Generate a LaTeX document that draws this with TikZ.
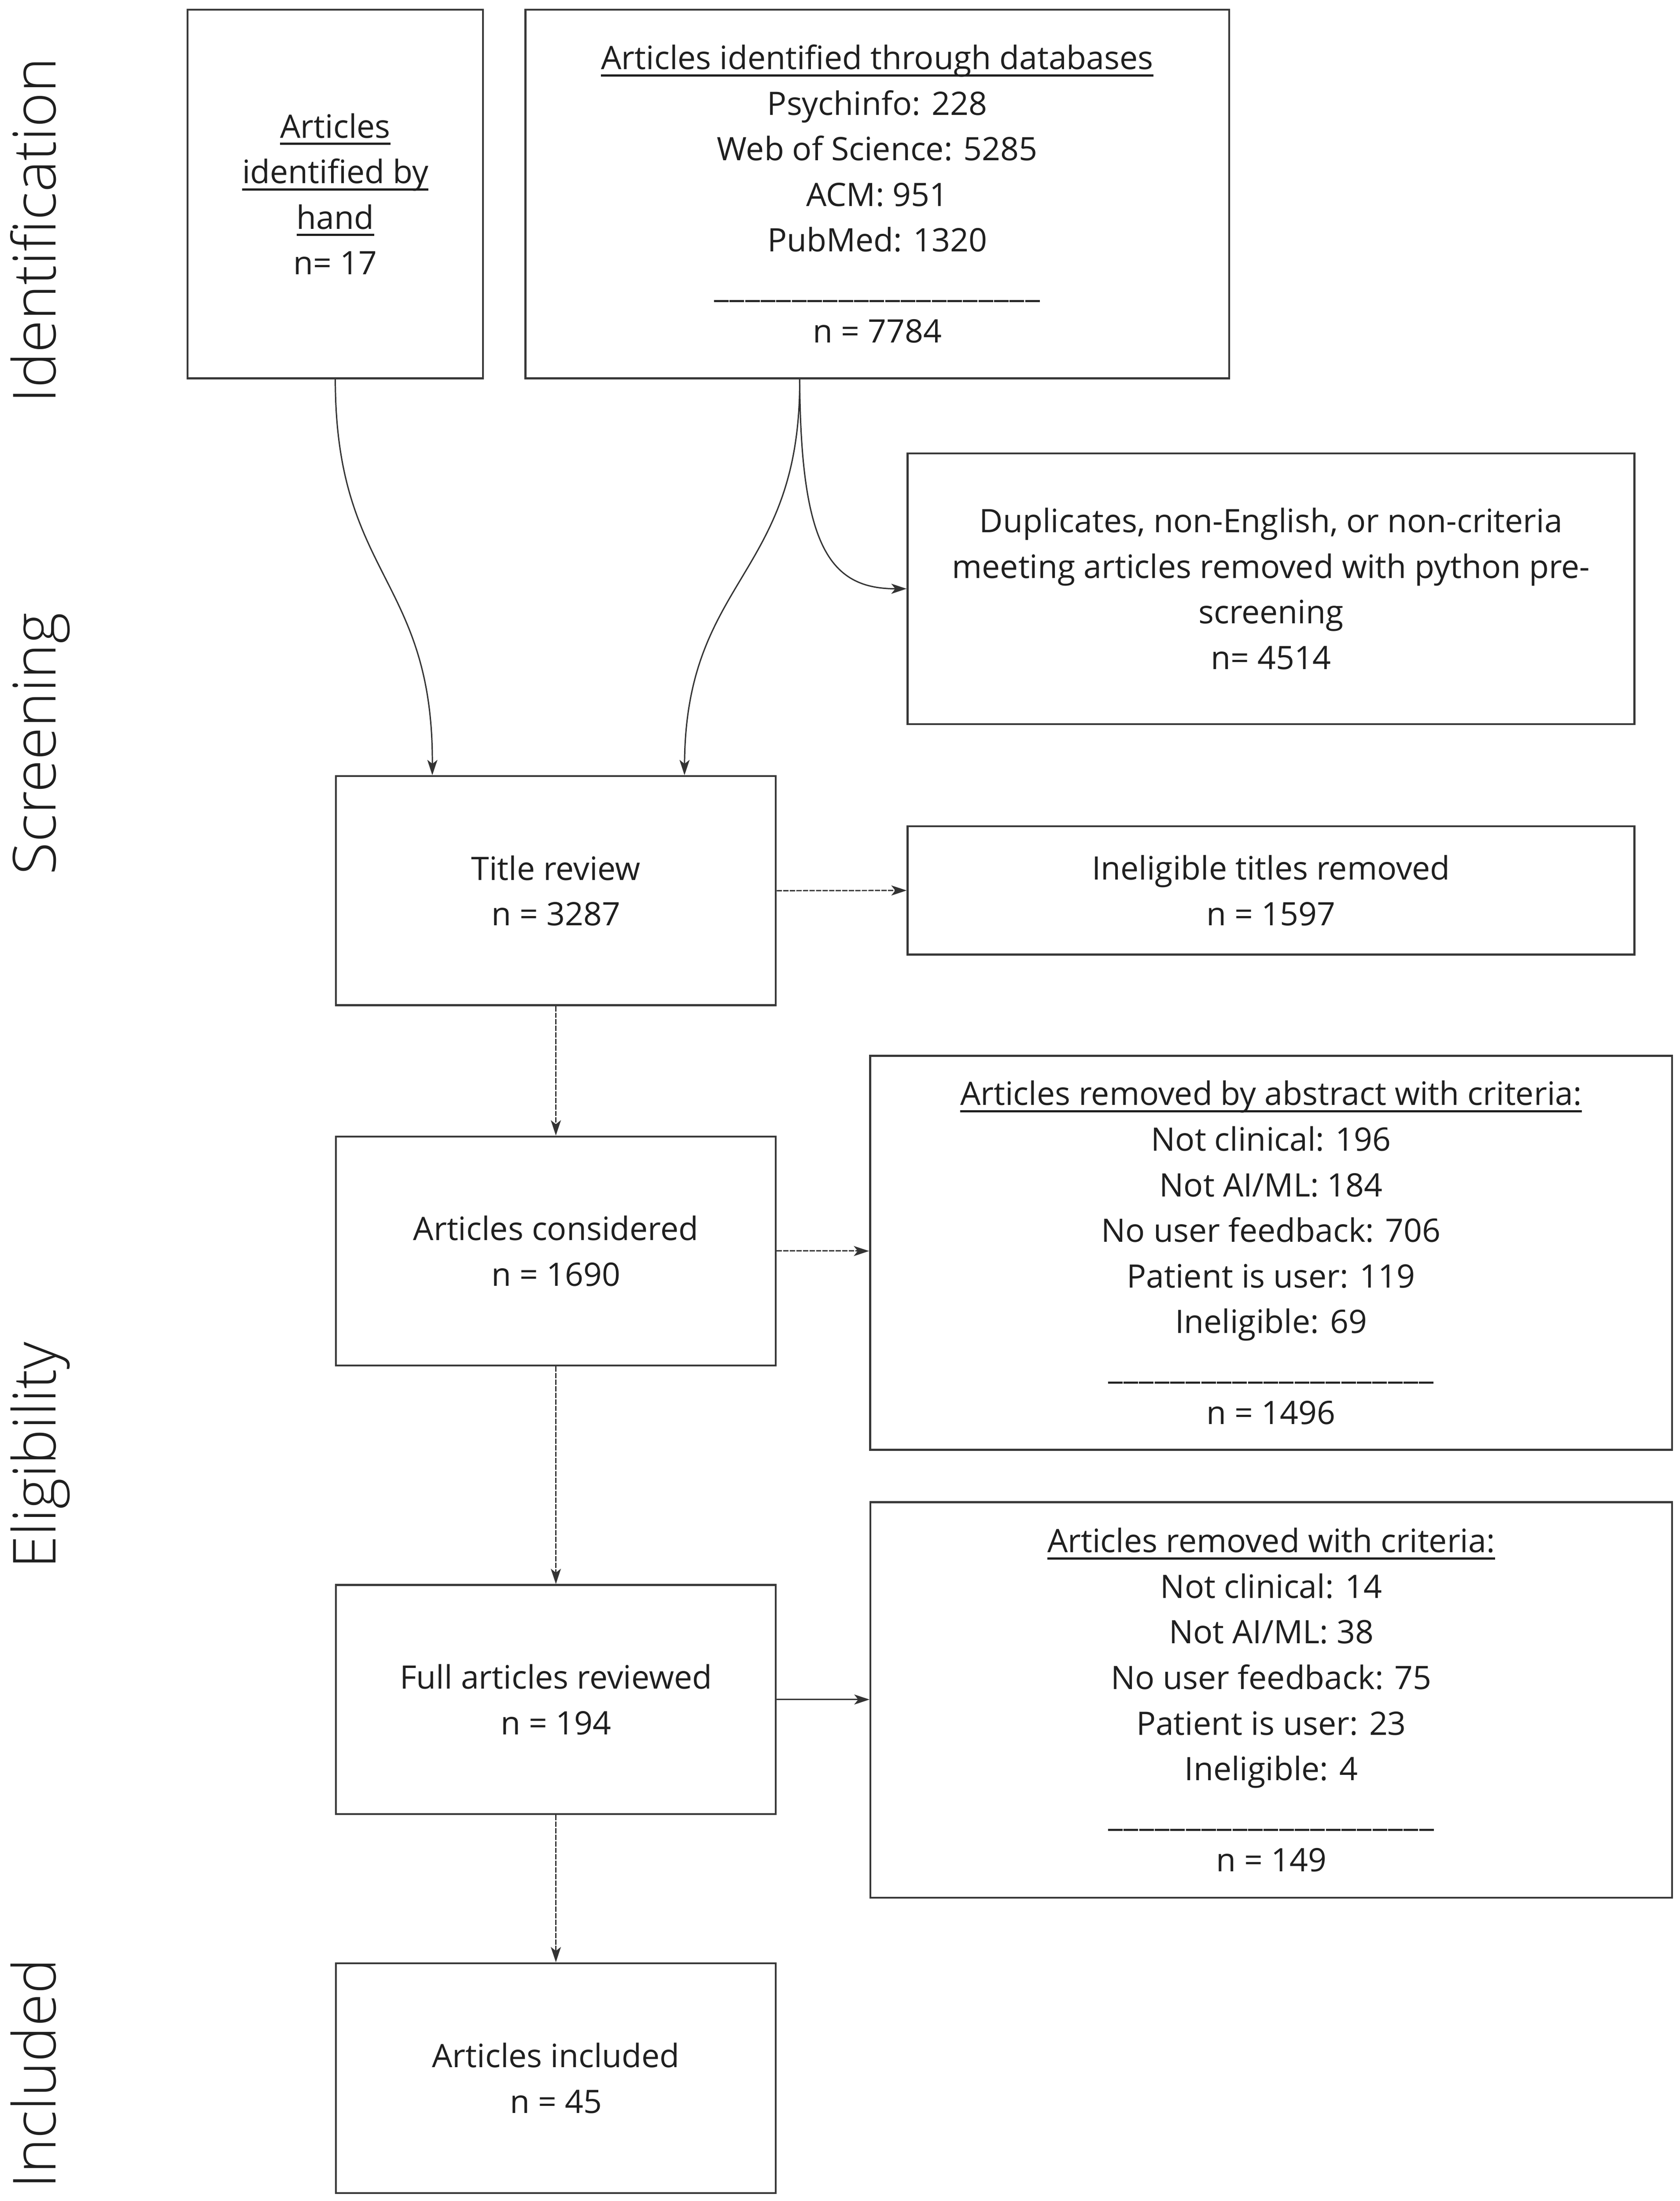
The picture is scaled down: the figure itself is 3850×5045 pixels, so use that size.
\documentclass[tikz,border=0pt]{standalone}
\usepackage{fontspec}
\setmainfont{Open Sans}
\IfFontExistsTF{Open Sans Light}{\newfontfamily\sidefont{Open Sans Light}}{\newfontfamily\sidefont{Open Sans}}
\usetikzlibrary{arrows.meta}
\newsavebox\ulbox
\newcommand\myul[1]{\leavevmode\sbox\ulbox{#1}\rlap{\rule[-0.22em]{\wd\ulbox}{0.07em}}\usebox\ulbox}
\newcommand\usc{\_\kern0.25pt}
\newcommand\uscoreline{\usc\usc\usc\usc\usc\usc\usc\usc\usc\usc\usc\usc\usc\usc\usc\usc\usc\usc\usc\usc\_}
\begin{document}
\begin{tikzpicture}[x=0.1pt,y=-0.1pt,
  box/.style={draw=black!78,line width=0.45pt,inner sep=0pt,align=center,text=black!88,
    font=\fontsize{7.4pt}{10.45pt}\selectfont},
  conn/.style={draw=black!80,line width=0.3pt,-{Stealth[length=3.5pt,width=2.3pt,inset=0.9pt]}},
  dconn/.style={conn,dash pattern=on 1.2pt off 0.3pt},
  side/.style={rotate=90,anchor=base,inner sep=0pt,text=black!88,
    font=\sidefont\fontsize{13.6pt}{16pt}\selectfont}]
\useasboundingbox (0,0) rectangle (3850,5045);
\fill[white] (0,0) rectangle (3850,5045);

% side labels
\node[side] (lid) at (128,528) {Identification};
\node[side] (lsc) at (128,1705) {Screening};
\node[side] (lel) at (128,3336) {Eligibility};
\node[side] (lin) at (128,4753) {Included};

% boxes
\node[box,minimum width=67.7pt,minimum height=84.5pt] (hand) at (768.5,444.5)
  {\myul{Articles}\\\myul{identified by}\\\myul{hand}\\n= 17};
\node[box,minimum width=161.3pt,minimum height=84.5pt] (db) at (2010.5,444.5)
  {\myul{Articles identified through databases}\\Psychinfo: 228\\Web of Science: 5285\\ACM: 951\\PubMed: 1320\\\uscoreline\\n = 7784};
\node[box,minimum width=166.6pt,minimum height=62.1pt] (dup) at (2913,1349.5)
  {Duplicates, non-English, or non-criteria\\meeting articles removed with python pre-\\screening\\n= 4514};
\node[box,minimum width=100.8pt,minimum height=52.5pt] (title) at (1274,2041.5)
  {Title review\\n = 3287};
\node[box,minimum width=166.6pt,minimum height=29.4pt] (inelt) at (2913,2041)
  {Ineligible titles removed\\n = 1597};
\node[box,minimum width=100.8pt,minimum height=52.5pt] (cons) at (1274,2867.5)
  {Articles considered\\n = 1690};
\node[box,minimum width=183.8pt,minimum height=90.3pt] (abs) at (2913,2871.5)
  {\myul{Articles removed by abstract with criteria:}\\Not clinical: 196\\Not AI/ML: 184\\No user feedback: 706\\Patient is user: 119\\Ineligible: 69\\\uscoreline\\n = 1496};
\node[box,minimum width=100.8pt,minimum height=52.5pt] (full) at (1274,3895.5)
  {Full articles reviewed\\n = 194};
\node[box,minimum width=183.7pt,minimum height=90.7pt] (rem) at (2913.5,3896.5)
  {\myul{Articles removed with criteria:}\\Not clinical: 14\\Not AI/ML: 38\\No user feedback: 75\\Patient is user: 23\\Ineligible: 4\\\uscoreline\\n = 149};
\node[box,minimum width=100.8pt,minimum height=52.7pt] (incl) at (1274,4763.5)
  {Articles included\\n = 45};

% connectors
\coordinate (dbout) at ([xshift=63.1pt]db.south west);
\coordinate (tin1) at ([xshift=22.3pt]title.north west);
\coordinate (tin2) at ([xshift=80.1pt]title.north west);
\draw[conn] (hand.south) .. controls (768.5,1323) and (993,1323) .. (tin1);
\draw[conn] (dbout) .. controls (1835,1323) and (1571,1323) .. (tin2);
\draw[conn] (dbout) .. controls (1835,1250) and (1900,1349.5) .. (dup.west);
\draw[dconn] (title.east) -- (inelt.west);
\draw[dconn] (title.south) -- (cons.north);
\draw[dconn] (cons.east) -- (cons.east -| abs.west);
\draw[dconn] (cons.south) -- (full.north);
\draw[conn] (full.east) -- (full.east -| rem.west);
\draw[dconn] (full.south) -- (incl.north);
\end{tikzpicture}
\end{document}
